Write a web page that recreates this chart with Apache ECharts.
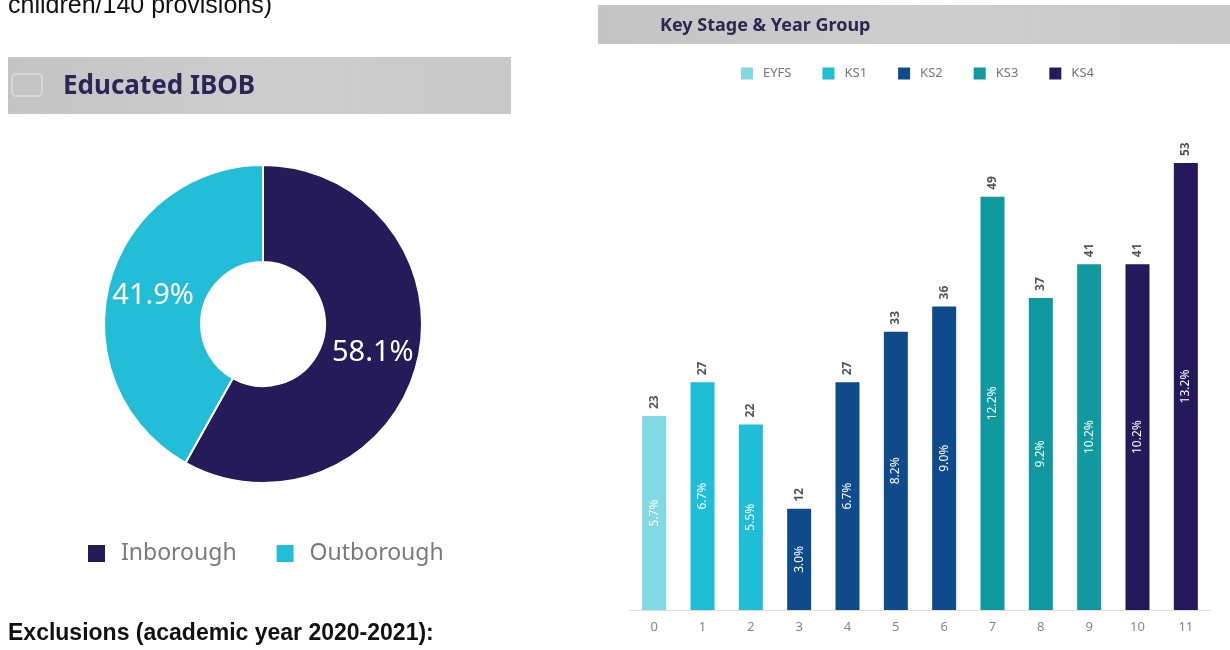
<!DOCTYPE html>
<html>
<head>
<meta charset="utf-8">
<script src="https://cdn.jsdelivr.net/npm/echarts@6/dist/echarts.min.js"></script>
<style>
  html, body { margin: 0; padding: 0; background: #fff; }
  #chart { width: 1230px; height: 650px; }
</style>
</head>
<body>
<div id="chart"></div>
<script>
// Educated in / out of borough split (percent)
const boroughNames = ['Inborough', 'Outborough'];
const boroughShare = [58.1, 41.9];
const boroughColors = ['#241b58', '#22bdd7'];

// Pupils by year group, with the key stage each year belongs to
const yearGroups = ['0', '1', '2', '3', '4', '5', '6', '7', '8', '9', '10', '11'];
const yearCounts = [23, 27, 22, 12, 27, 33, 36, 49, 37, 41, 41, 53];
const yearStage = ['EYFS', 'KS1', 'KS1', 'KS2', 'KS2', 'KS2', 'KS2', 'KS3', 'KS3', 'KS3', 'KS4', 'KS4'];
const stageNames = ['EYFS', 'KS1', 'KS2', 'KS3', 'KS4'];
const stageColors = ['#80d9e3', '#20bdd7', '#0f4b8b', '#10999e', '#25195b'];

const total = yearCounts.reduce((a, b) => a + b, 0);
const FONT = 'Noto Sans';
const DOC_FONT = 'Liberation Sans';

// One stacked series per key stage; each year only has a value in its own stage
const stageSeries = stageNames.map((stage, si) => ({
  name: stage,
  type: 'bar',
  stack: 'years',
  barWidth: 24,
  itemStyle: { color: stageColors[si] },
  data: yearCounts.map((v, i) => (yearStage[i] === stage ? v : '-')),
  label: {
    show: true,
    position: 'inside',
    rotate: 90,
    color: '#ffffff',
    fontFamily: FONT,
    fontSize: 12,
    formatter: p => (p.value / total * 100).toFixed(1) + '%'
  },
  z: 3
}));

// Count labels above the bars
const countLabels = {
  type: 'bar',
  stack: 'labels',
  barWidth: 24,
  barGap: '-100%',
  silent: true,
  itemStyle: { color: 'transparent' },
  data: yearCounts,
  label: {
    show: true,
    position: 'top',
    rotate: 90,
    align: 'left',
    verticalAlign: 'middle',
    distance: 7,
    color: '#555555',
    fontWeight: 'bold',
    fontFamily: FONT,
    fontSize: 12,
    formatter: p => String(p.value)
  },
  z: 1
};

function headerBar(x, y, w, h) {
  return {
    type: 'rect',
    shape: { x: x, y: y, width: w, height: h },
    style: {
      fill: new echarts.graphic.LinearGradient(0, 0, 1, 0, [
        { offset: 0, color: '#c4c4c4' },
        { offset: 0.5, color: '#cdcdcd' },
        { offset: 1, color: '#c9c9c9' }
      ])
    },
    z: 0
  };
}

const chart = echarts.init(document.getElementById('chart'), null, { renderer: 'canvas' });

chart.setOption({
  backgroundColor: '#ffffff',
  animation: false,
  graphic: [
    {
      type: 'text', left: 8, top: -6,
      style: { text: 'children/140 provisions)', fill: '#111111', fontSize: 25, fontFamily: DOC_FONT }
    },
    headerBar(8, 57, 503, 57),
    {
      type: 'rect', shape: { x: 12, y: 74, width: 30, height: 22, r: 4 },
      style: { fill: 'none', stroke: '#d8d8d8', lineWidth: 2 }, z: 1
    },
    {
      type: 'text', left: 63, top: 74,
      style: { text: 'Educated IBOB', fill: '#2a2757', fontSize: 26, fontWeight: 'bold', fontFamily: FONT }, z: 2
    },
    headerBar(598, 5, 632, 39),
    {
      type: 'text', left: 660, top: 17,
      style: { text: 'Key Stage & Year Group', fill: '#2a2750', fontSize: 18, fontWeight: 'bold', fontFamily: FONT }, z: 2
    },
    {
      type: 'text', left: 8, top: 622,
      style: { text: 'Exclusions (academic year 2020-2021):', fill: '#111111', fontSize: 23, fontWeight: 'bold', fontFamily: DOC_FONT }
    }
  ],
  legend: [
    {
      data: boroughNames,
      left: 81, top: 537,
      itemWidth: 19, itemHeight: 19, itemGap: 38,
      icon: 'rect',
      textStyle: { fontSize: 23, color: '#7a7a7a', fontFamily: FONT, padding: [0, 0, 0, 10] }
    },
    {
      data: stageNames,
      left: 736, top: 62,
      itemWidth: 12, itemHeight: 12, itemGap: 31,
      icon: 'rect',
      textStyle: { fontSize: 13, color: '#777777', fontFamily: FONT, padding: [0, 0, 0, 5] }
    }
  ],
  grid: { left: 630, right: 20, top: 104, bottom: 40 },
  xAxis: {
    type: 'category',
    data: yearGroups,
    axisLine: { lineStyle: { color: '#dddddd' } },
    axisTick: { alignWithLabel: true, lineStyle: { color: '#dddddd' } },
    axisLabel: { color: '#888888', fontSize: 13, fontFamily: FONT, margin: 11 }
  },
  yAxis: {
    type: 'value', min: 0, max: 60, show: false,
    splitLine: { show: false }
  },
  series: [
    {
      name: 'Educated IBOB',
      type: 'pie',
      center: [263, 324],
      radius: [62, 159],
      startAngle: 90,
      clockwise: true,
      itemStyle: { borderColor: '#ffffff', borderWidth: 2 },
      label: {
        show: true,
        position: 'inside',
        color: '#ffffff',
        fontSize: 29,
        fontFamily: FONT,
        formatter: p => p.value.toFixed(1) + '%'
      },
      labelLine: { show: false },
      data: boroughNames.map((n, i) => ({ name: n, value: boroughShare[i], itemStyle: { color: boroughColors[i] } }))
    },
    ...stageSeries,
    countLabels
  ]
});
</script>
</body>
</html>
